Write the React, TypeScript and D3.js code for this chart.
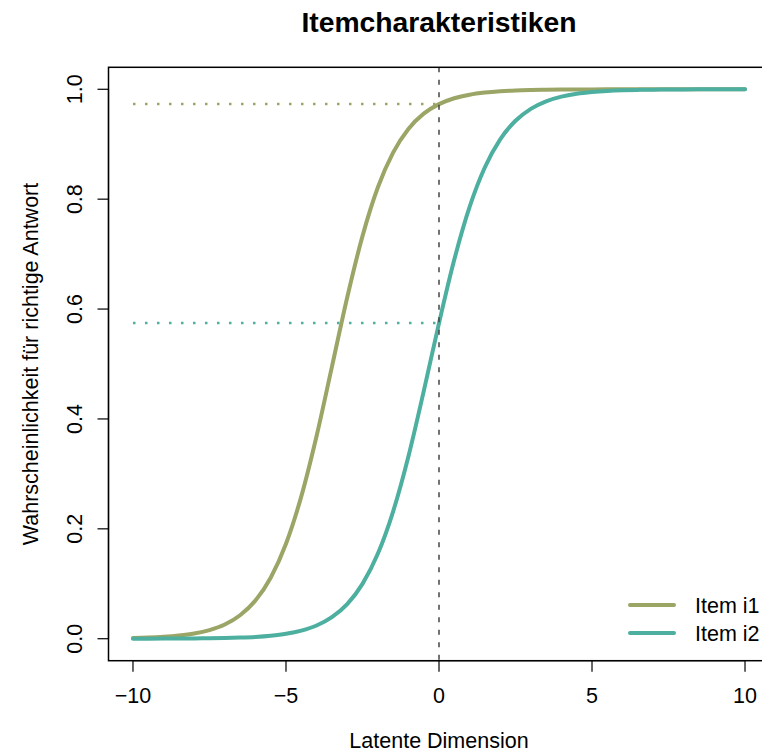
import React from "react";
import * as d3 from "d3";

const thetaGrid = [
  -10, -9.5, -9, -8.5, -8, -7.5, -7, -6.5, -6, -5.5, -5, -4.5, -4, -3.5, -3, -2.5, -2, -1.5, -1, -0.5,
  0, 0.5, 1, 1.5, 2, 2.5, 3, 3.5, 4, 4.5, 5, 5.5, 6, 6.5, 7, 7.5, 8, 8.5, 9, 9.5, 10,
];

const item1Values = [
  0.0012, 0.002, 0.0034, 0.0057, 0.0094, 0.0157, 0.0259, 0.0427, 0.0694, 0.111, 0.1728, 0.2591, 0.3691,
  0.4948, 0.6211, 0.7328, 0.8212, 0.8848, 0.9278, 0.9556, 0.973, 0.9837, 0.9902, 0.9941, 0.9965, 0.9979,
  0.9987, 0.9992, 0.9996, 0.9997, 0.9998, 0.9999, 0.9999, 0.9999, 1.0, 1.0, 1.0, 1.0, 1.0, 1.0, 1.0,
];

const item2Values = [
  0.0001, 0.0001, 0.0002, 0.0003, 0.0005, 0.0008, 0.0012, 0.002, 0.0033, 0.0055, 0.009, 0.0148, 0.0241,
  0.0392, 0.063, 0.0998, 0.1545, 0.2315, 0.3318, 0.4502, 0.5744, 0.69, 0.7858, 0.8581, 0.9089, 0.9427,
  0.9644, 0.9781, 0.9866, 0.9918, 0.995, 0.997, 0.9982, 0.9989, 0.9993, 0.9996, 0.9998, 0.9999, 0.9999,
  1.0, 1.0,
];

const itemNames = ["Item i1", "Item i2"];
const itemColors = ["#9aa566", "#4daf9f"];
const xTicks = [-10, -5, 0, 5, 10];
const yTicks = [0, 0.2, 0.4, 0.6, 0.8, 1.0];

const W = 762;
const H = 755;
const FONT = "'Liberation Sans', Arial, Helvetica, sans-serif";
const FS = 21.5;

export default function App() {
  const x = d3.scaleLinear().domain([-10.8, 10.8]).range([108.5, 769.5]);
  const y = d3.scaleLinear().domain([-0.04, 1.04]).range([660.7, 67.3]);
  const [x0, x1] = x.range();
  const [yb, yt] = y.range();

  const line = d3
    .line<number>()
    .x((_, i) => x(thetaGrid[i]))
    .y((d) => y(d))
    .curve(d3.curveMonotoneX);

  const series = [item1Values, item2Values];
  const zeroIdx = thetaGrid.indexOf(0);

  return (
    <svg
      width={W}
      height={H}
      style={{ position: "absolute", left: 0, top: 0, background: "#fff" }}
      fontFamily={FONT}
    >
      <rect x={0} y={0} width={W} height={H} fill="#fff" />
      <text x={439} y={32} textAnchor="middle" fontSize={28.3} fontWeight="bold" fill="#000">
        Itemcharakteristiken
      </text>

      {/* dotted reference lines */}
      {series.map((vals, i) => (
        <line
          key={"h" + i}
          x1={x(-10)}
          x2={x(0)}
          y1={y(vals[zeroIdx])}
          y2={y(vals[zeroIdx])}
          stroke={itemColors[i]}
          strokeWidth={2.5}
          strokeDasharray="2.5 9.5"
        />
      ))}

      {/* curves */}
      {series.map((vals, i) => (
        <path
          key={"c" + i}
          d={line(vals) || ""}
          fill="none"
          stroke={itemColors[i]}
          strokeWidth={4}
          strokeLinecap="round"
        />
      ))}

      {/* vertical dashed line */}
      <line
        x1={x(0)}
        x2={x(0)}
        y1={yt}
        y2={yb}
        stroke="#444"
        strokeWidth={1.5}
        strokeDasharray="5 7.5"
      />

      {/* box */}
      <rect x={x0} y={yt} width={x1 - x0} height={yb - yt} fill="none" stroke="#000" strokeWidth={1.5} />

      {/* x axis */}
      <line x1={x(-10)} x2={x(10)} y1={yb} y2={yb} stroke="#000" strokeWidth={1.2} />
      {xTicks.map((t) => (
        <g key={"xt" + t}>
          <line x1={x(t)} x2={x(t)} y1={yb} y2={yb + 11} stroke="#000" strokeWidth={1.2} />
          <text x={x(t)} y={703} textAnchor="middle" fontSize={FS} fill="#000">
            {t < 0 ? "\u2212" + Math.abs(t) : String(t)}
          </text>
        </g>
      ))}
      <text x={439} y={748} textAnchor="middle" fontSize={FS} fill="#000">
        Latente Dimension
      </text>

      {/* y axis */}
      <line x1={x0} x2={x0} y1={y(0)} y2={y(1)} stroke="#000" strokeWidth={1.2} />
      {yTicks.map((t) => (
        <g key={"yt" + t}>
          <line x1={x0 - 11} x2={x0} y1={y(t)} y2={y(t)} stroke="#000" strokeWidth={1.2} />
          <text
            transform={`translate(82,${y(t)}) rotate(-90)`}
            textAnchor="middle"
            fontSize={FS}
            fill="#000"
          >
            {t.toFixed(1)}
          </text>
        </g>
      ))}
      <text
        transform={`translate(38,${(yt + yb) / 2}) rotate(-90)`}
        textAnchor="middle"
        fontSize={FS}
        fill="#000"
      >
        Wahrscheinlichkeit für richtige Antwort
      </text>

      {/* legend */}
      {itemNames.map((name, i) => (
        <g key={"lg" + i}>
          <line
            x1={630}
            x2={674}
            y1={605 + i * 28}
            y2={605 + i * 28}
            stroke={itemColors[i]}
            strokeWidth={4}
            strokeLinecap="round"
          />
          <text x={695} y={605 + i * 28 + 7.5} fontSize={FS} fill="#000">
            {name}
          </text>
        </g>
      ))}
    </svg>
  );
}
